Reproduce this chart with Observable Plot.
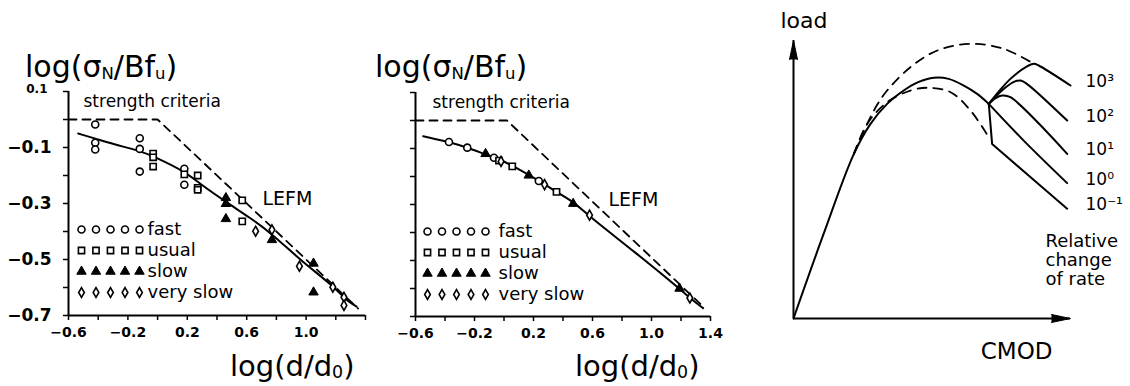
<!DOCTYPE html>
<html><head><meta charset="utf-8">
<script src="https://cdn.jsdelivr.net/npm/d3@7"></script>
<script src="https://cdn.jsdelivr.net/npm/@observablehq/plot@0.6"></script>
<style>
body{margin:0;background:#fff;}
#fig{position:relative;width:1130px;height:386px;overflow:hidden;font-family:"DejaVu Sans",sans-serif;color:#000;background:#fff;}
.p{position:absolute;top:0;}
.t{position:absolute;white-space:nowrap;font-size:29px;line-height:29px;}
.ty{font-size:30px;line-height:30px;}
.s{font-size:0.55em;vertical-align:-0.12em;}
.s0{font-size:0.6em;vertical-align:-0.1em;}
</style></head><body><div id="fig"></div>
<script>
// ---------- data ----------
const rates = ["fast", "usual", "slow", "very slow"];
const xTicks = [-0.6, -0.4, -0.2, 0, 0.2, 0.4, 0.6, 0.8, 1.0, 1.2, 1.4];
const xLabels1 = [-0.6, -0.2, 0.2, 0.6, 1.0];
const xLabels2 = [-0.6, -0.2, 0.2, 0.6, 1.0, 1.4];
const yTicks = [0.1, 0, -0.1, -0.2, -0.3, -0.4, -0.5, -0.6, -0.7];
const yLabels = [-0.1, -0.3, -0.5, -0.7];
const yTopLabel = [0.1];

// panel 1: experimental points
const p1Fast = [[-0.42,-0.018],[-0.42,-0.083],[-0.42,-0.107],[-0.12,-0.067],[-0.12,-0.105],[-0.12,-0.186],[0.18,-0.176],[0.18,-0.233]];
const p1Usual = [[-0.03,-0.122],[-0.03,-0.135],[-0.03,-0.168],[0.18,-0.196],[0.27,-0.2],[0.27,-0.244],[0.27,-0.251],[0.57,-0.289],[0.57,-0.364]];
const p1Slow = [[0.46,-0.28],[0.46,-0.301],[0.46,-0.355],[0.77,-0.43],[1.05,-0.514],[1.05,-0.617]];
const p1VerySlow = [[0.66,-0.399],[0.77,-0.394],[0.955,-0.524],[1.18,-0.599],[1.255,-0.635],[1.255,-0.664]];
const p1CurveX = [-0.535,-0.42,-0.3,-0.12,-0.03,0.19,0.27,0.47,0.62,0.77,0.96,1.18,1.27,1.31,1.34];
const p1CurveY = [-0.05,-0.068,-0.088,-0.112,-0.131,-0.188,-0.224,-0.298,-0.35,-0.408,-0.502,-0.593,-0.645,-0.658,-0.668];
const p1LefmX = [-0.6, 0.0, 1.35];
const p1LefmY = [0, 0, -0.675];

// panel 2: model points
const p2Fast = [[-0.373,-0.077],[-0.249,-0.097],[-0.068,-0.133],[0.236,-0.216]];
const p2Usual = [[-0.034,-0.143],[0.056,-0.164],[0.356,-0.255]];
const p2Slow = [[-0.125,-0.119],[0.168,-0.196],[0.469,-0.297],[1.19,-0.6]];
const p2VerySlow = [[-0.02,-0.146],[0.275,-0.229],[0.58,-0.338],[1.26,-0.634]];
const p2CurveX = [-0.548,-0.367,-0.249,-0.136,-0.03,0.056,0.168,0.275,0.356,0.473,0.575,0.89,1.192,1.26,1.35];
const p2CurveY = [-0.056,-0.077,-0.097,-0.119,-0.139,-0.161,-0.194,-0.227,-0.256,-0.291,-0.341,-0.471,-0.601,-0.635,-0.67];
const p2LefmX = [-0.6, 0.02, 1.355];
const p2LefmY = [0, 0, -0.667];

// panel 3: load–CMOD curves (arbitrary units 0..100)
const cmodDomain = [0, 100];
const loadDomain = [0, 100];
const mainCurve = [[0,0],[10.9,30.5],[21.8,59.2],[27.8,70],[33.8,77.2],[39.8,82],[45,85],[50.7,86.6],[56,86.2],[61.5,83.8],[66.3,80.8],[70.5,77.2]];
const branchM1 = [[70.5,77.2],[71.7,62.8],[85.6,50.8],[98.8,39.5]];
const branch0 = [[70.5,77.2],[83.1,64],[98.8,48.7]];
const branch1 = [[70.5,77.2],[73,79.3],[75.3,80.2],[78.3,79.6],[98.8,59.2]];
const branch2 = [[70.5,77.2],[75.9,82.6],[80,85.3],[82,85.6],[84,84.6],[98.8,71.2]];
const branch3 = [[70.5,77.2],[74,81.5],[78.3,86.2],[84,90.5],[86.8,91.6],[88.5,91],[100,83.8]];
const upperDashed = [[21.8,59.2],[26.6,70],[30,76.5],[33.8,82],[42.2,90.4],[51.9,96.4],[63.9,98.8],[75.9,97],[86.8,91.6]];
const lowerDashed = [[21.8,59.2],[26.6,70],[33.8,77.8],[42.2,82],[48.3,83],[56.7,81.4],[63.9,74.8],[70.5,65.2]];
const branchLabels = ["10⁻¹", "10⁰", "10¹", "10²", "10³"];

// ---------- helpers ----------
const FONT = "DejaVu Sans";
const fmt = d => (d < 0 ? "−" : "") + Math.abs(d).toFixed(1);
const symStyle = {
  "fast": {symbol: "circle", r: 3.5, fill: "white", stroke: "black", strokeWidth: 1.6},
  "usual": {symbol: "square", r: 3.5, fill: "white", stroke: "black", strokeWidth: 1.6},
  "slow": {symbol: "triangle", r: 3.5, fill: "black", stroke: "black", strokeWidth: 1},
  "very slow": {symbol: "diamond", r: 3.0, fill: "white", stroke: "black", strokeWidth: 1.6}
};
function pointMarks(sets) {
  return rates.map((rate, i) => Plot.dot(sets[i], {x: d => d[0], y: d => d[1], ...symStyle[rate]}));
}
function legendMarks(dx0, dy0, dxText) {
  const marks = [];
  rates.forEach((rate, i) => {
    for (let k = 0; k < 5; k++) {
      marks.push(Plot.dot([rate], {frameAnchor: "top-left", dx: dx0 + k * 14.5, dy: dy0 + i * 21, ...symStyle[rate]}));
    }
    marks.push(Plot.text([rate], {text: d => d, frameAnchor: "top-left", dx: dxText, dy: dy0 + i * 21, textAnchor: "start", lineAnchor: "middle", fontSize: 18}));
  });
  return marks;
}
function sizePlot(o) {
  return Plot.plot({
    width: 380, height: 386,
    marginLeft: o.ml, marginRight: o.mr, marginTop: o.mt, marginBottom: o.mb,
    x: {domain: [-0.6, 1.4]},
    y: {domain: [-0.7, 0.1]},
    style: {fontFamily: FONT, background: "white", color: "black", overflow: "visible"},
    marks: [
      Plot.ruleX([-0.6], {strokeWidth: 2}),
      Plot.ruleY([-0.7], {strokeWidth: 2}),
      Plot.axisX(xTicks, {tickSize: 5, strokeWidth: 1.5, tickFormat: () => "", label: null}),
      Plot.axisX(o.xLabels, {tickSize: 0, tickPadding: 12, tickFormat: fmt, fontSize: 14, fontWeight: "bold", label: null}),
      Plot.axisY(yTicks, {tickSize: 5, strokeWidth: 1.5, tickFormat: () => "", label: null}),
      ...(o.yLabels ? [
        Plot.axisY(yLabels, {tickSize: 0, tickPadding: 17, tickFormat: fmt, fontSize: 17, fontWeight: "bold", label: null}),
        Plot.axisY(yTopLabel, {tickSize: 0, tickPadding: 21, tickFormat: fmt, fontSize: 12, fontWeight: "bold", dy: -2, label: null})
      ] : []),
      Plot.line(d3.zip(o.lefmX, o.lefmY), {x: d => d[0], y: d => d[1], strokeWidth: 1.8, strokeDasharray: "8,6"}),
      Plot.line(d3.zip(o.curveX, o.curveY), {x: d => d[0], y: d => d[1], strokeWidth: 2, curve: "basis"}),
      ...pointMarks(o.points),
      Plot.text(["strength criteria"], {frameAnchor: "top-left", dx: o.scDx, dy: 10, textAnchor: "start", lineAnchor: "middle", fontSize: 17}),
      Plot.text(["LEFM"], {frameAnchor: "top-left", dx: o.lefmDx, dy: 107, textAnchor: "start", lineAnchor: "middle", fontSize: 19}),
      ...legendMarks(o.legDx, o.legDy, o.legTextDx)
    ]
  });
}

const fig = document.getElementById("fig");
function place(node, left) {
  node.classList.add("p");
  node.style.left = left + "px";
  fig.appendChild(node);
}

const p1 = sizePlot({ml: 68, mr: 15, mt: 91, mb: 71, xLabels: xLabels1, yLabels: true,
  lefmX: p1LefmX, lefmY: p1LefmY, curveX: p1CurveX, curveY: p1CurveY,
  points: [p1Fast, p1Usual, p1Slow, p1VerySlow], scDx: 15, lefmDx: 194, legDx: 13, legDy: 138, legTextDx: 79});
place(p1, 0);

const p2 = sizePlot({ml: 35, mr: 50, mt: 92, mb: 70, xLabels: xLabels2, yLabels: false,
  lefmX: p2LefmX, lefmY: p2LefmY, curveX: p2CurveX, curveY: p2CurveY,
  points: [p2Fast, p2Usual, p2Slow, p2VerySlow], scDx: 17, lefmDx: 193, legDx: 12, legDy: 139, legTextDx: 83});
place(p2, 380);

const arrowTips = [
  {x: cmodDomain[0], y: loadDomain[1], rotate: 0},
  {x: cmodDomain[1], y: loadDomain[0], rotate: 90}
];
const branches = [branchM1, branch0, branch1, branch2, branch3];
const p3 = Plot.plot({
  width: 360, height: 386,
  marginLeft: 23, marginRight: 60, marginTop: 40, marginBottom: 68,
  x: {domain: cmodDomain, axis: null},
  y: {domain: loadDomain, axis: null},
  style: {fontFamily: FONT, background: "white", color: "black", overflow: "visible"},
  marks: [
    Plot.ruleX([cmodDomain[0]], {strokeWidth: 2}),
    Plot.ruleY([loadDomain[0]], {strokeWidth: 2}),
    Plot.vector(arrowTips, {x: "x", y: "y", rotate: "rotate", length: 19, r: 4, shape: "spike", anchor: "end", fill: "black", stroke: "black", strokeWidth: 1}),
    Plot.line(upperDashed, {x: d => d[0], y: d => d[1], curve: "catmull-rom", strokeWidth: 1.8, strokeDasharray: "9,7"}),
    Plot.line(lowerDashed, {x: d => d[0], y: d => d[1], curve: "catmull-rom", strokeWidth: 1.8, strokeDasharray: "9,7"}),
    Plot.line(mainCurve, {x: d => d[0], y: d => d[1], curve: "catmull-rom", strokeWidth: 2}),
    ...branches.map((b, i) => Plot.line(b, {x: d => d[0], y: d => d[1], curve: i === 0 ? "linear" : "catmull-rom", strokeWidth: 2})),
    Plot.text(branches.map((b, i) => ({y: b[b.length - 1][1], label: branchLabels[i]})),
      {y: "y", text: "label", frameAnchor: "right", dx: 15, dy: -4, textAnchor: "start", lineAnchor: "middle", fontSize: 17}),
    Plot.text(["Relative\nchange\nof rate"], {frameAnchor: "top-right", dx: -25, dy: 193, textAnchor: "start", lineAnchor: "top", lineHeight: 1.05, fontSize: 18}),
    Plot.text(["load"], {frameAnchor: "top-left", dx: -13, dy: -28, textAnchor: "start", lineAnchor: "top", fontSize: 22}),
    Plot.text(["CMOD"], {frameAnchor: "bottom-right", dx: -18, dy: 24, textAnchor: "end", lineAnchor: "top", fontSize: 23})
  ]
});
place(p3, 770);

// axis titles with subscripts (HTML text overlays)
function title(html, left, top, extra) {
  const d = document.createElement("div");
  d.className = "t" + (extra ? " " + extra : "");
  d.innerHTML = html;
  d.style.left = left + "px";
  d.style.top = top + "px";
  fig.appendChild(d);
}
const yTitle = 'log(σ<span class="s">N</span>/Bf<span class="s">u</span>)';
const xTitle = 'log(d/d<span class="s0">0</span>)';
title(yTitle, 25, 52, "ty");
title(yTitle, 375, 52, "ty");
title(xTitle, 230, 352);
title(xTitle, 575, 352);
</script></body></html>
